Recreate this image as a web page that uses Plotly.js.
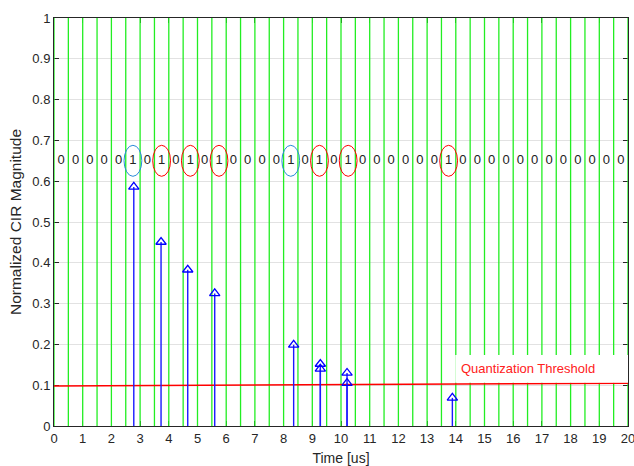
<!DOCTYPE html>
<html><head><meta charset="utf-8">
<script src="https://cdn.plot.ly/plotly-3.0.1.min.js"></script>
<style>body{margin:0;background:#fff}</style>
</head><body><div id="chart" style="width:634px;height:466px"></div>
<script>
// ---- data ----
const bits = [0,0,0,0,0,1,0,1,0,1,0,1,0,0,0,0,1,0,1,0,1,0,0,0,0,0,0,1,0,0,0,0,0,0,0,0,0,0,0,0];
const bitPeriod = 0.5;          // us
const bitLabelLevel = 0.65;
const markColors = ['#2a8ad8','#ff0000','#ff0000','#ff0000','#2a8ad8','#ff0000','#ff0000','#ff0000'];
const pathTimes = [2.78,3.73,4.66,5.60,8.35,9.28,9.28,10.21,10.21,13.88];
const pathMags  = [0.586,0.451,0.383,0.325,0.199,0.152,0.140,0.130,0.105,0.069];
const thresholdTimes  = [0,20];
const thresholdLevels = [0.098,0.105];
const thresholdLabel = 'Quantization Threshold';
const xTickVals = [0,1,2,3,4,5,6,7,8,9,10,11,12,13,14,15,16,17,18,19,20];
const yTickVals = [0,0.1,0.2,0.3,0.4,0.5,0.6,0.7,0.8,0.9,1];
const yTickText = ['0','0.1','0.2','0.3','0.4','0.5','0.6','0.7','0.8','0.9','1'];

// ---- build traces ----
const gx=[], gy=[];
for (let k=0;k<=bits.length;k++){ gx.push(k*bitPeriod,k*bitPeriod,null); gy.push(0,1,null); }
const bitX = bits.map((b,i)=>(i+0.5)*bitPeriod);
const bitY = bits.map(()=>bitLabelLevel);
const sx=[], sy=[];
pathTimes.forEach((t,i)=>{ sx.push(t,t,null); sy.push(0,pathMags[i],null); });

const font = "'Liberation Sans', Arial, Helvetica, sans-serif";
const traces = [
  {x:gx,y:gy,mode:'lines',line:{color:'#22ee22',width:1.3},hoverinfo:'skip',showlegend:false},
  {x:thresholdTimes,y:thresholdLevels,mode:'lines',line:{color:'#ff0000',width:1.6},showlegend:false},
  {x:sx,y:sy,mode:'lines',line:{color:'#1a1aff',width:1.4},showlegend:false},
  {x:pathTimes,y:pathMags,mode:'markers',marker:{symbol:'triangle-up-open',size:9,color:'#0000ff',line:{width:1.3,color:'#0000ff'}},showlegend:false},
  {x:bitX,y:bitY,mode:'text',text:bits.map(String),textposition:'middle center',
   textfont:{family:font,size:13,color:'#222222'},showlegend:false}
];

const shapes = [];
let m=0;
bits.forEach((b,i)=>{
  if(b===1){
    const c=(i+0.5)*bitPeriod;
    shapes.push({type:'circle',xref:'x',yref:'y',x0:c-0.31,x1:c+0.31,y0:bitLabelLevel-0.038,y1:bitLabelLevel+0.038,
      line:{color:markColors[m],width:1},fillcolor:'rgba(0,0,0,0)',layer:'above'});
    m++;
  }
});
// white label box behind threshold text
shapes.push({type:'rect',xref:'x',yref:'y',x0:13.98,x1:20,y0:0.106,y1:0.174,line:{width:0},fillcolor:'#ffffff',layer:'above'});

const layout = {
  width:634,height:466,
  margin:{l:54,r:6,t:18,b:40},
  paper_bgcolor:'#fff',plot_bgcolor:'#fff',
  font:{family:font,size:13,color:'#262626'},
  xaxis:{range:[0,20],tickvals:xTickVals,ticks:'inside',ticklen:5,tickcolor:'#262626',
    showline:true,linecolor:'#262626',linewidth:1,mirror:'ticks',showgrid:false,zeroline:false,
    ticklabeloverflow:'allow',
    title:{text:'Time [us]',font:{size:14},standoff:8},tickfont:{size:13},layer:'below traces'},
  yaxis:{range:[0,1],tickvals:yTickVals,ticktext:yTickText,ticks:'inside',ticklen:5,tickcolor:'#262626',
    showline:true,linecolor:'#262626',linewidth:1,mirror:'ticks',showgrid:true,gridcolor:'#e2e2e2',zeroline:false,
    title:{text:'Normalized CIR Magnitude',font:{size:15.5},standoff:6},tickfont:{size:13},layer:'below traces'},
  shapes:shapes,
  annotations:[{xref:'x',yref:'y',x:16.52,y:0.142,text:thresholdLabel,showarrow:false,
    font:{family:font,size:13,color:'#ff2020'}}]
};
Plotly.newPlot('chart',traces,layout,{displayModeBar:false,staticPlot:true});
</script></body></html>
